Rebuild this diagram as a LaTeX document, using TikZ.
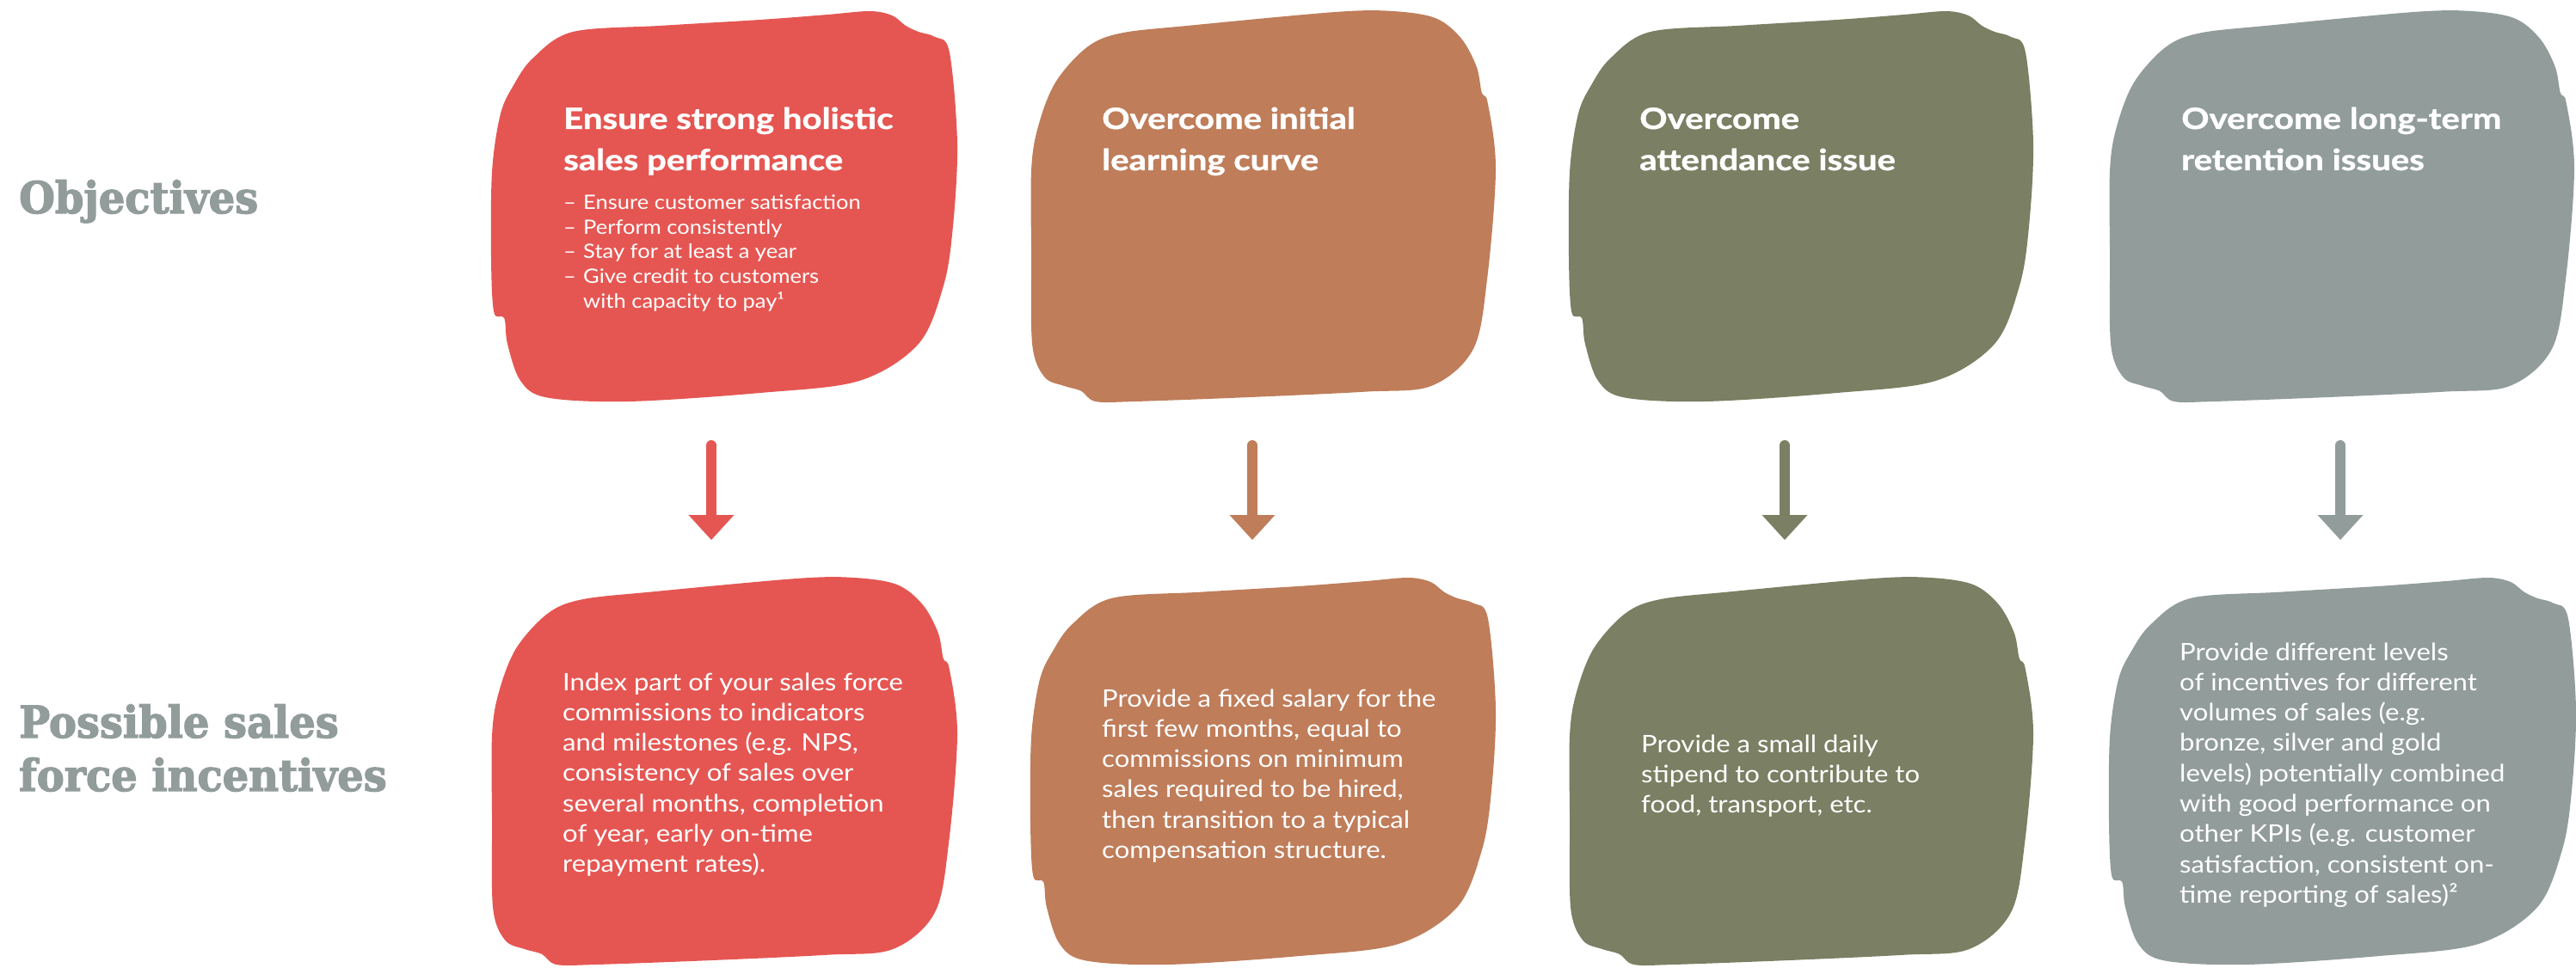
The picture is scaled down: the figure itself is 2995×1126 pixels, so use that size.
\documentclass[tikz,border=0pt]{standalone}
\usepackage{fontspec}
\usetikzlibrary{calc}
\newfontfamily\bodyf{Lato}[FakeStretch=1.11]
\newfontfamily\headf{Lato}[FakeStretch=1.18,FakeBold=1.2]
\newfontfamily\sidef{DejaVu Serif Bold}[FakeStretch=0.94,FakeBold=2.5]
\definecolor{cred}{HTML}{E55652}
\definecolor{cbrown}{HTML}{BF7D5A}
\definecolor{colive}{HTML}{7B7F63}
\definecolor{cgrey}{HTML}{919C9B}
\newcommand{\txtblock}[3]{\parbox[t]{600pt}{\fontsize{#1}{#2}\selectfont #3}}
\newcommand{\bl}{\makebox[23pt][l]{–}}
\newcommand{\blobA}[5]{%
  \fill[#1,shift={(#2,#3)},xscale=#4,yscale=#5] plot[smooth cycle,tension=0.55] coordinates {
  (0.09,0.12) (0.175,0.053) (0.367,0.037) (0.577,0.022) (0.72,0.009) (0.812,0.0)
  (0.86,0.011) (0.889,0.037) (0.917,0.053) (0.952,0.066) (0.983,0.104) (1.0,0.34)
  (0.99,0.56) (0.97,0.705) (0.917,0.852) (0.79,0.947) (0.577,0.978) (0.295,1.0)
  (0.12,0.99) (0.063,0.947) (0.035,0.852) (0.028,0.786) (0.006,0.771) (0.0,0.632)
  (0.002,0.41) (0.02,0.264) (0.048,0.19)};}
\newcommand{\blobB}[5]{%
  \fill[#1,shift={(#2,#3)},xscale=#4,yscale=#5] plot[smooth cycle,tension=0.55] coordinates {
  (0.122,0.092) (0.196,0.056) (0.349,0.036) (0.657,0.002) (0.779,0.0) (0.871,0.018)
  (0.926,0.07) (0.959,0.143) (0.970,0.209) (0.983,0.236) (1.0,0.404) (0.982,0.682)
  (0.952,0.865) (0.862,0.96) (0.72,0.975) (0.472,0.989) (0.225,1.0) (0.14,1.0)
  (0.109,0.973) (0.072,0.96) (0.03,0.937) (0.004,0.854) (0.002,0.63) (0.002,0.406)
  (0.017,0.294) (0.054,0.182)};}
\begin{document}
\begin{tikzpicture}[x=1pt,y=-1pt,
  hd/.style={anchor=base west,inner sep=0pt,text=white,font=\headf\bfseries},
  bd/.style={anchor=base west,inner sep=0pt,text=white,font=\bodyf},
  sd/.style={anchor=base west,inner sep=0pt,text=cgrey,font=\sidef},
  shaft/.style={line width=12pt,line cap=round,draw=#1}]
\useasboundingbox (0,0) rectangle (2995,1126);
\fill[white] (0,0) rectangle (2995,1126);

% side labels
\node[sd] (objl) at (22,248) {\fontsize{51}{62}\selectfont Objectives};
\node[sd] (incl) at (22,858) {\txtblock{51}{62}{Possible sales\\force incentives}};

% blobs
\blobA{cred}{571}{13}{542}{454}
\blobB{cbrown}{1198}{13}{541}{454}
\blobA{colive}{1824}{13}{540}{454}
\blobB{cgrey}{2452}{13}{541}{454}
\blobB{cred}{571}{672}{542}{450}
\blobA{cbrown}{1198}{672}{541}{450}
\blobB{colive}{1824}{672}{540}{450}
\blobA{cgrey}{2452}{672}{543}{450}

% headings
\node[hd] (h1) at (655,150) {\txtblock{34}{48}{Ensure strong holistic\\sales performance}};
\node[hd] (h2) at (1281,150) {\txtblock{34}{48}{Overcome initial\\learning curve}};
\node[hd] (h3) at (1906,150) {\txtblock{34}{48}{Overcome\\attendance issue}};
\node[hd] (h4) at (2536,150) {\txtblock{34}{48}{Overcome long-term\\retention issues}};

\node[bd] (l1) at (655,243.3) {\txtblock{23}{28.75}{\bl Ensure customer satisfaction\\\bl Perform consistently\\\bl Stay for at least a year\\\bl Give credit to customers\\\hspace*{23pt}with capacity to pay¹}};

% body texts
\node[bd] (b1) at (654,803) {\txtblock{28}{35.3}{Index part of your sales force\\commissions to indicators\\and milestones (e.g. NPS,\\consistency of sales over\\several months, completion\\of year, early on-time\\repayment rates).}};
\node[bd] (b2) at (1281,822) {\txtblock{28}{35.3}{Provide a fixed salary for the\\first few months, equal to\\commissions on minimum\\sales required to be hired,\\then transition to a typical\\compensation structure.}};
\node[bd] (b3) at (1908,875) {\txtblock{28}{35.3}{Provide a small daily\\stipend to contribute to\\food, transport, etc.}};
\node[bd] (b4) at (2534,768) {\txtblock{28}{35.3}{Provide different levels\\of incentives for different\\volumes of sales (e.g.\\bronze, silver and gold\\levels) potentially combined\\with good performance on\\other KPIs (e.g. customer\\satisfaction, consistent on-\\time reporting of sales)²}};

% arrows
\foreach \n/\xx/\cc in {1/827/cred,2/1456/cbrown,3/2075/colive,4/2721/cgrey}{
  \coordinate (a\n s) at (\xx,518);
  \coordinate (a\n t) at (\xx,628);
  \draw[shaft=\cc] (a\n s) -- ($(a\n t)+(0,-28)$);
  \fill[\cc] ($(a\n t)+(-26.5,-29)$) -- ($(a\n t)+(26.5,-29)$) -- (a\n t) -- cycle;
}
\end{tikzpicture}
\end{document}
